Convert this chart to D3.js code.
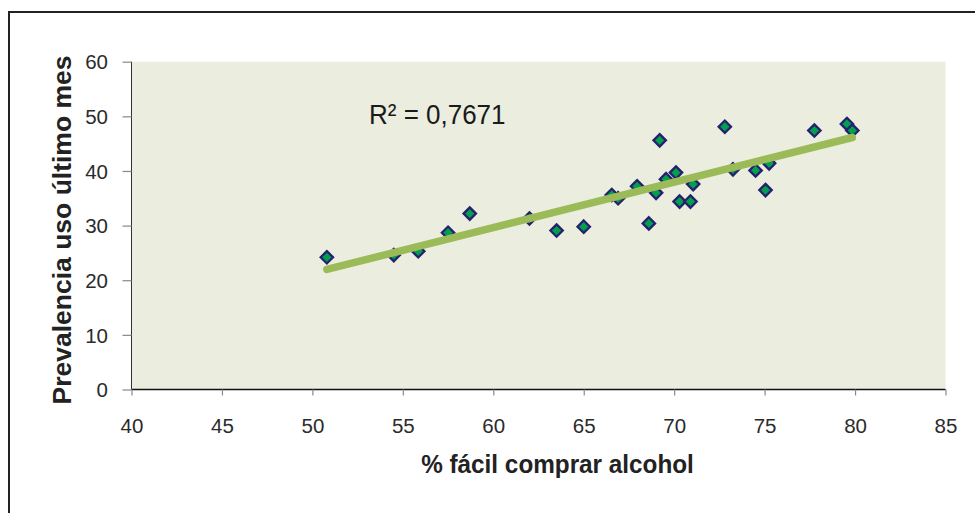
<!DOCTYPE html>
<html>
<head>
<meta charset="utf-8">
<script src="https://cdn.jsdelivr.net/npm/d3@7"></script>
<style>
  html, body { margin: 0; padding: 0; background: #fff; }
  svg { display: block; font-family: "Liberation Sans", Arial, sans-serif; }
</style>
</head>
<body>
<svg id="chart" width="975" height="513"></svg>
<script>
// % of people who find alcohol easy to buy vs. past-month prevalence
const facilComprar = [50.8, 54.5, 55.85, 57.5, 58.7, 62.0, 63.5, 65.0, 66.55, 66.9,
  67.95, 68.6, 69.0, 69.2, 69.55, 70.1, 70.3, 70.9, 71.05, 72.8,
  73.25, 74.5, 75.25, 75.05, 77.75, 79.55, 79.85];
const prevalencia = [24.2, 24.6, 25.3, 28.7, 32.2, 31.3, 29.1, 29.8, 35.6, 35.0,
  37.2, 30.4, 36.0, 45.6, 38.5, 39.7, 34.4, 34.4, 37.6, 48.1,
  40.3, 40.1, 41.4, 36.5, 47.4, 48.6, 47.4];
const xTicks = [40, 45, 50, 55, 60, 65, 70, 75, 80, 85];
const yTicks = [0, 10, 20, 30, 40, 50, 60];
const r2Label = "R² = 0,7671";
const xTitle = "% fácil comprar alcohol";
const yTitle = "Prevalencia uso último mes";

const svg = d3.select("#chart");
const plot = { left: 131.5, right: 945.5, top: 61.7, bottom: 389.5 };

// Outer chart frame (open to the right and bottom)
svg.append("path")
  .attr("d", `M9,513 L9,12 L975,12`)
  .attr("fill", "none").attr("stroke", "#222").attr("stroke-width", 2);

const x = d3.scaleLinear().domain([40, 85]).range([plot.left, plot.right]);
const y = d3.scaleLinear().domain([0, 60]).range([plot.bottom, plot.top]);

// Plot area background
svg.append("rect")
  .attr("x", plot.left).attr("y", plot.top)
  .attr("width", plot.right - plot.left).attr("height", plot.bottom - plot.top)
  .attr("fill", "#EBEEDF");

// Axes
const xAxis = svg.append("g")
  .attr("transform", `translate(0,${plot.bottom})`)
  .call(d3.axisBottom(x).tickValues(xTicks).tickSize(6).tickFormat(d3.format("d")));
const yAxis = svg.append("g")
  .attr("transform", `translate(${plot.left},0)`)
  .call(d3.axisLeft(y).tickValues(yTicks).tickSize(9).tickPadding(14.5).tickFormat(d3.format("d")));

[xAxis, yAxis].forEach(g => {
  g.selectAll(".tick line").attr("stroke", "#888").attr("stroke-width", 1.2);
  g.selectAll(".tick text").attr("fill", "#2b2b2b").style("font-size", "20.5px");
});
yAxis.selectAll(".tick text").attr("dy", "0.35em");
xAxis.selectAll(".tick text").attr("y", 43).attr("dy", 0);
// plain axis lines without end caps
yAxis.select(".domain").attr("d", `M0,${plot.bottom}V${plot.top}`).attr("stroke", "#333").attr("stroke-width", 1);
xAxis.select(".domain").attr("d", `M${plot.left},0H${plot.right}`).attr("stroke", "#111").attr("stroke-width", 1.3);

// Least-squares linear trend through the points
const n = facilComprar.length;
const mx = d3.mean(facilComprar), my = d3.mean(prevalencia);
let sxy = 0, sxx = 0;
for (let i = 0; i < n; i++) {
  sxy += (facilComprar[i] - mx) * (prevalencia[i] - my);
  sxx += (facilComprar[i] - mx) ** 2;
}
const slope = sxy / sxx, intercept = my - slope * mx;
const [x0, x1] = d3.extent(facilComprar);

// Data points (diamonds)
const diamond = d3.symbol().type(d3.symbolDiamond2).size(98);
svg.append("g").selectAll("path")
  .data(facilComprar.map((v, i) => [v, prevalencia[i]]))
  .join("path")
  .attr("d", diamond)
  .attr("transform", d => `translate(${x(d[0])},${y(d[1])})`)
  .attr("fill", "#00A04E")
  .attr("stroke", "#27206E")
  .attr("stroke-width", 2.3);

svg.append("line")
  .attr("x1", x(x0)).attr("y1", y(intercept + slope * x0))
  .attr("x2", x(x1)).attr("y2", y(intercept + slope * x1))
  .attr("stroke", "#9BBB59").attr("stroke-width", 7.5).attr("stroke-linecap", "round");

// R² annotation
svg.append("text")
  .attr("transform", "translate(369,124) scale(1,1.08)")
  .attr("fill", "#1a1a1a").style("font-size", "26px")
  .text(r2Label);

// Axis titles
svg.append("text")
  .attr("transform", `translate(${(plot.left + plot.right) / 2 + 19},473) scale(1,1.08)`)
  .attr("text-anchor", "middle").attr("fill", "#222")
  .style("font-size", "24.3px").style("font-weight", "bold")
  .text(xTitle);
svg.append("text")
  .attr("transform", `translate(71,230) rotate(-90)`)
  .attr("text-anchor", "middle").attr("fill", "#222")
  .style("font-size", "26.5px").style("font-weight", "bold")
  .text(yTitle);
</script>
</body>
</html>
